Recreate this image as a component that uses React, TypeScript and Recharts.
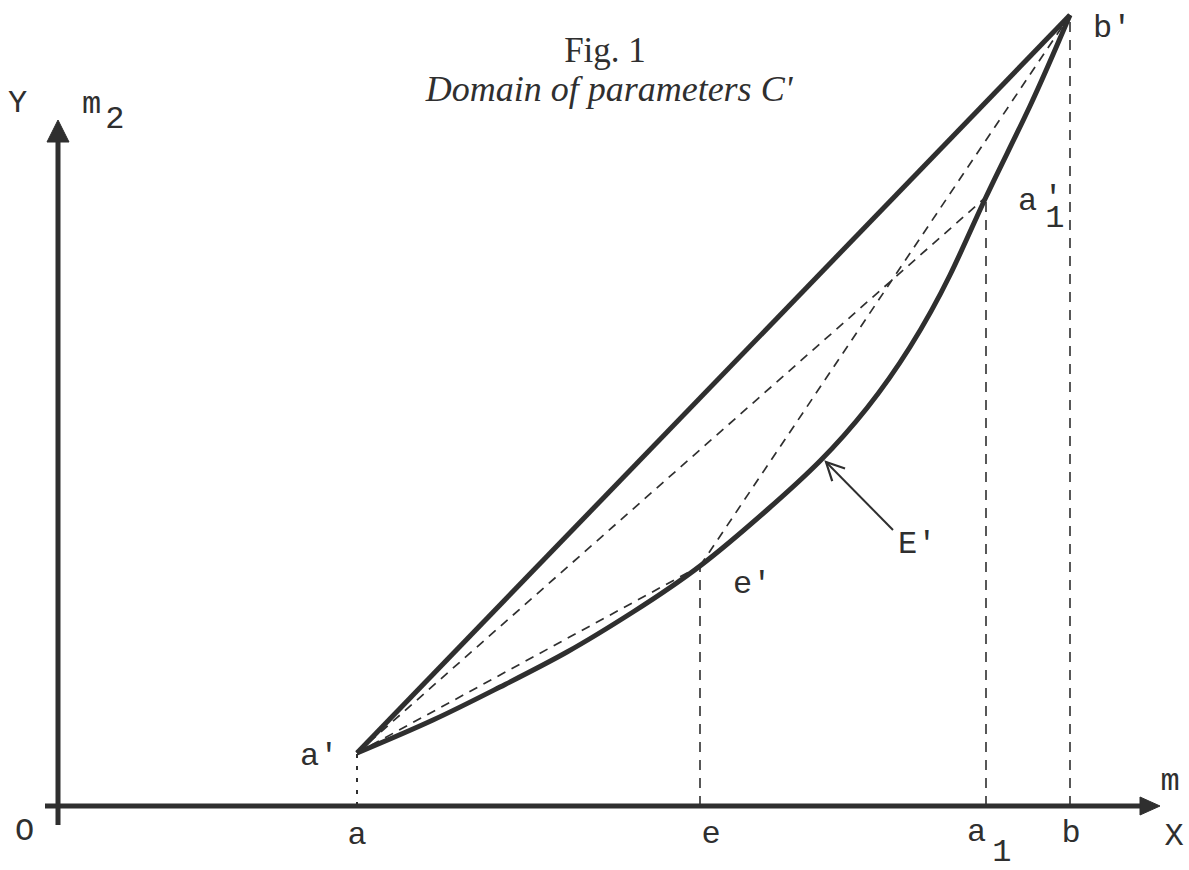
import { ComposedChart, Line, XAxis, YAxis, Scatter } from "recharts";

const W = 1189;
const H = 870;

// points on the m axis
const a = 2.99;
const e = 6.42;
const a1 = 9.28;
const b = 10.12;

// m2 values of the marked points a', e', a'1, b'
const aP = 0.53;
const eP = 2.4;
const a1P = 6.09;
const bP = 7.91;

// boundary curve E'
const curveM = [a, 3.75, 4.42, 5.09, 5.75, e, 7.09, 7.62, 8.09, 8.52, 8.92, a1, 9.72, b];
const curveM2 = [aP, 0.86, 1.19, 1.54, 1.94, eP, 2.96, 3.45, 3.98, 4.59, 5.31, a1P, 7.0, bP];
const curve = curveM.map((x, i) => ({ x, y: curveM2[i] }));

const upperLine = [{ x: a, y: aP }, { x: b, y: bP }];
const chordAE = [{ x: a, y: aP }, { x: e, y: eP }];
const chordAA1 = [{ x: a, y: aP }, { x: a1, y: a1P }];
const chordEB = [{ x: e, y: eP }, { x: b, y: bP }];

const dropA = [{ x: a, y: 0 }, { x: a, y: aP }];
const dropE = [{ x: e, y: 0 }, { x: e, y: eP }];
const dropA1 = [{ x: a1, y: 0 }, { x: a1, y: a1P }];
const dropB = [{ x: b, y: 0 }, { x: b, y: bP }];

// axes (line ends at the arrow base)
const xAxisLine = [{ x: -0.13, y: 0 }, { x: 10.82, y: 0 }];
const yAxisLine = [{ x: 0, y: -0.19 }, { x: 0, y: 6.64 }];
const xTip = { x: 11.02, y: 0 };
const yTip = { x: 0, y: 6.86 };

// pointer to E'
const pointer = [{ x: 8.35, y: 2.76 }, { x: 7.68, y: 3.44 }];

const labels = [
  { name: "O", x: 0, y: 0 },
  { name: "Y", x: yTip.x, y: yTip.y },
  { name: "m2", x: yTip.x, y: yTip.y },
  { name: "a", x: a, y: 0 },
  { name: "e", x: e, y: 0 },
  { name: "a1", x: a1, y: 0 },
  { name: "b", x: b, y: 0 },
  { name: "X", x: xTip.x, y: xTip.y },
  { name: "m", x: xTip.x, y: xTip.y },
  { name: "a'", x: a, y: aP },
  { name: "e'", x: e, y: eP },
  { name: "E'", x: pointer[0].x, y: pointer[0].y },
  { name: "a'1", x: a1, y: a1P },
  { name: "b'", x: b, y: bP },
];

const INK = "#2f2f2f";
const MONO = "'Liberation Mono', 'DejaVu Sans Mono', monospace";
const SERIF = "'Liberation Serif', 'DejaVu Serif', serif";
const FS = 32;

const offsets: Record<string, [number, number]> = {
  O: [-43, 34],
  Y: [-50, -8],
  m2: [24, -7],
  a: [0, 38],
  e: [11, 37],
  a1: [-19, 35],
  b: [1, 36],
  X: [14, 39],
  m: [10, -16],
  "a'": [-57, 12],
  "e'": [33, 27],
  "E'": [5, 23],
  "a'1": [32, 13],
  "b'": [23, 22],
};
const centered = ["a", "e", "b", "X", "m"];

const LabelMark = (props: any) => {
  const { cx, cy, payload } = props;
  const name: string = payload.name;
  const [dx, dy] = offsets[name];
  const x = cx + dx;
  const y = cy + dy;
  const common = {
    fontFamily: MONO,
    fontSize: FS,
    fill: INK,
  };
  if (name === "m2") {
    return (
      <text x={x} y={y} {...common}>
        m<tspan dx={4} dy={15}>2</tspan>
      </text>
    );
  }
  if (name === "a1") {
    return (
      <text x={x} y={y} {...common}>
        a<tspan dx={6} dy={20}>1</tspan>
      </text>
    );
  }
  if (name === "a'1") {
    return (
      <g>
        <text x={x} y={y} {...common}>
          a<tspan dx={8} dy={17}>1</tspan>
        </text>
        <text x={x + 35} y={y - 3} textAnchor="middle" {...common}>
          '
        </text>
      </g>
    );
  }
  return (
    <text x={x} y={y} textAnchor={centered.includes(name) ? "middle" : "start"} {...common}>
      {name}
    </text>
  );
};

// arrowhead drawn at the last point of a line, pointing along the last segment
const arrowDot =
  (pts: { x: number; y: number }[], kind: "solid" | "open", len: number, half: number) =>
  (props: any) => {
    const { cx, cy, index } = props;
    if (index !== pts.length - 1) return <g key={`d${index}`} />;
    const p0 = pts[pts.length - 2];
    const p1 = pts[pts.length - 1];
    const ang = Math.atan2(-(p1.y - p0.y), p1.x - p0.x);
    const ux = Math.cos(ang);
    const uy = Math.sin(ang);
    const nx = -uy;
    const ny = ux;
    if (kind === "solid") {
      const tx = cx + ux * len;
      const ty = cy + uy * len;
      const pts2 = `${tx},${ty} ${cx + nx * half},${cy + ny * half} ${cx - nx * half},${cy - ny * half}`;
      return <polygon key={`d${index}`} points={pts2} fill={INK} stroke={INK} strokeWidth={1} />;
    }
    const bx = cx - ux * len;
    const by = cy - uy * len;
    const d = `M${bx + nx * half},${by + ny * half} L${cx},${cy} L${bx - nx * half},${by - ny * half}`;
    return <path key={`d${index}`} d={d} fill="none" stroke={INK} strokeWidth={2.2} />;
  };

const seg = (key: string, data: { x: number; y: number }[], width: number, dash?: string, type: any = "linear", dot: any = false) => (
  <Line
    key={key}
    data={data}
    dataKey="y"
    type={type}
    stroke={INK}
    strokeWidth={width}
    strokeDasharray={dash}
    dot={dot}
    activeDot={false}
    isAnimationActive={false}
  />
);

export default function App() {
  return (
    <div style={{ position: "absolute", left: 0, top: 0, width: W, height: H, background: "#fff" }}>
      <ComposedChart width={W} height={H} margin={{ top: 0, right: 0, bottom: 0, left: 0 }}>
        <XAxis type="number" dataKey="x" domain={[-0.58, 11.31]} hide />
        <YAxis type="number" dataKey="y" domain={[-0.64, 8.06]} hide />

        {seg("dropA", dropA, 2, "4 8")}
        {seg("dropE", dropE, 1.6, "10 8")}
        {seg("dropA1", dropA1, 1.6, "10 8")}
        {seg("dropB", dropB, 1.6, "10 8")}

        {seg("chordAE", chordAE, 1.7, "9 7")}
        {seg("chordAA1", chordAA1, 1.7, "9 7")}
        {seg("chordEB", chordEB, 1.7, "9 7")}

        {seg("upper", upperLine, 5)}
        {seg("curve", curve, 5, undefined, "natural")}

        {seg("xaxis", xAxisLine, 5, undefined, "linear", arrowDot(xAxisLine, "solid", 20, 9))}
        {seg("yaxis", yAxisLine, 5, undefined, "linear", arrowDot(yAxisLine, "solid", 22, 11))}
        {seg("pointer", pointer, 2, undefined, "linear", arrowDot(pointer, "open", 18, 9))}

        <Scatter data={labels} shape={LabelMark} isAnimationActive={false} />
      </ComposedChart>
      <svg width={W} height={H} style={{ position: "absolute", left: 0, top: 0, pointerEvents: "none" }}>
        <text x={605} y={62} textAnchor="middle" fontFamily={SERIF} fontSize={35} fill={INK}>
          Fig. 1
        </text>
        <text x={609} y={101} textAnchor="middle" fontFamily={SERIF} fontStyle="italic" fontSize={36} fill={INK}>
          Domain of parameters C'
        </text>
      </svg>
    </div>
  );
}
